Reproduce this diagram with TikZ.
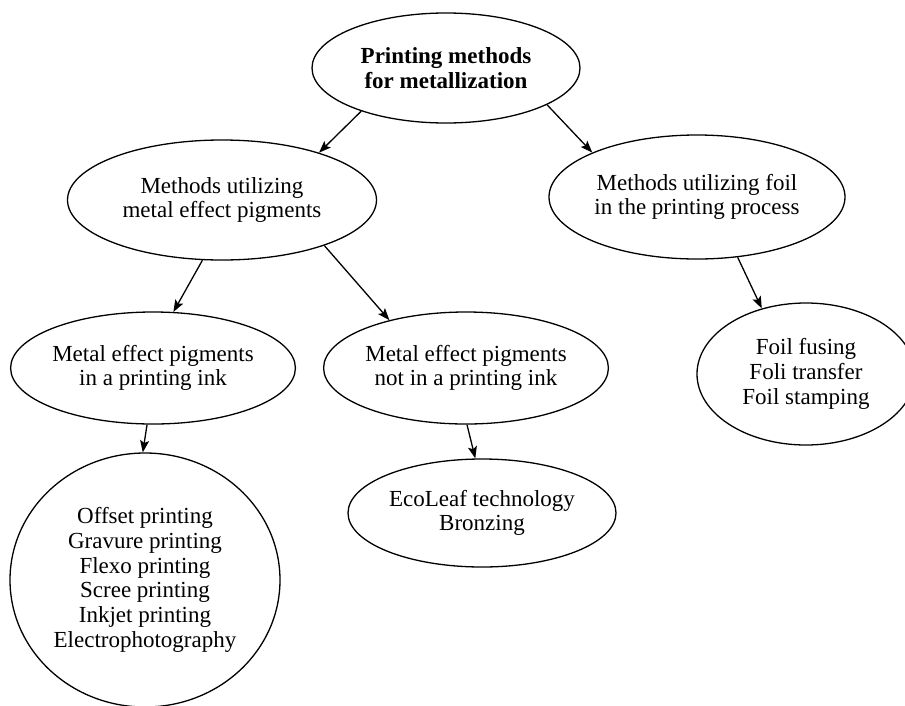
\documentclass[tikz,border=0pt]{standalone}
\usepackage{fontspec}
\setmainfont{Liberation Serif}
\usetikzlibrary{shapes, arrows.meta, positioning}

\begin{document}
\begin{tikzpicture}[x=1pt, y=-1pt]
    \tikzstyle{method} = [ellipse, draw, line width=1.3pt, inner sep=0pt, align=center, font=\fontsize{23}{24.7}\selectfont]
    \tikzstyle{arrow} = [line width=1.3pt, -{Stealth[length=12pt, width=9pt, inset=2.5pt]}]

    \useasboundingbox (0,0) rectangle (905,705);

    \node (title) [method, minimum width=268pt, minimum height=110pt, font=\fontsize{23}{24.7}\selectfont\bfseries] at (446,68) {Printing methods\\for metallization};
    \node (metal) [method, below of=title, node distance=132pt, xshift=-224pt, minimum width=309pt, minimum height=120pt] {Methods utilizing\\metal effect pigments};
    \node (foil) [method, below of=title, node distance=129pt, xshift=251pt, minimum width=296pt, minimum height=124pt] {Methods utilizing foil\\in the printing process};
    \node (ink) [method, below of=metal, node distance=168pt, xshift=-69pt, minimum width=280pt, minimum height=112pt] {Metal effect pigments\\in a printing ink};
    \node (notink) [method, below of=metal, node distance=168pt, xshift=244pt, minimum width=280pt, minimum height=112pt] {Metal effect pigments\\not in a printing ink};
    \node (foillist) [method, below of=foil, node distance=177pt, xshift=109pt, minimum width=218pt, minimum height=142pt] {Foil fusing\\Foli transfer\\Foil stamping};
    \node (prints) [method, below of=ink, node distance=212pt, xshift=-8pt, minimum width=270pt, minimum height=254pt] {Offset printing\\Gravure printing\\Flexo printing\\Scree printing\\Inkjet printing\\Electrophotography};
    \node (eco) [method, below of=notink, node distance=145pt, xshift=16pt, minimum width=268pt, minimum height=108pt] {EcoLeaf technology\\Bronzing};

    % Arrows
    \draw [arrow] (title.207) -- (metal.26);
    \draw [arrow] (title.-20) -- (foil.157);
    \draw [arrow] (metal.252) -- (ink.70);
    \draw [arrow] (metal.-24) -- (notink.148);
    \draw [arrow] (foil.-56) -- (foillist.124);
    \draw [arrow] (ink.-96) -- (prints.91);
    \draw [arrow] (notink.-89) -- (eco.97);
\end{tikzpicture}
\end{document}
